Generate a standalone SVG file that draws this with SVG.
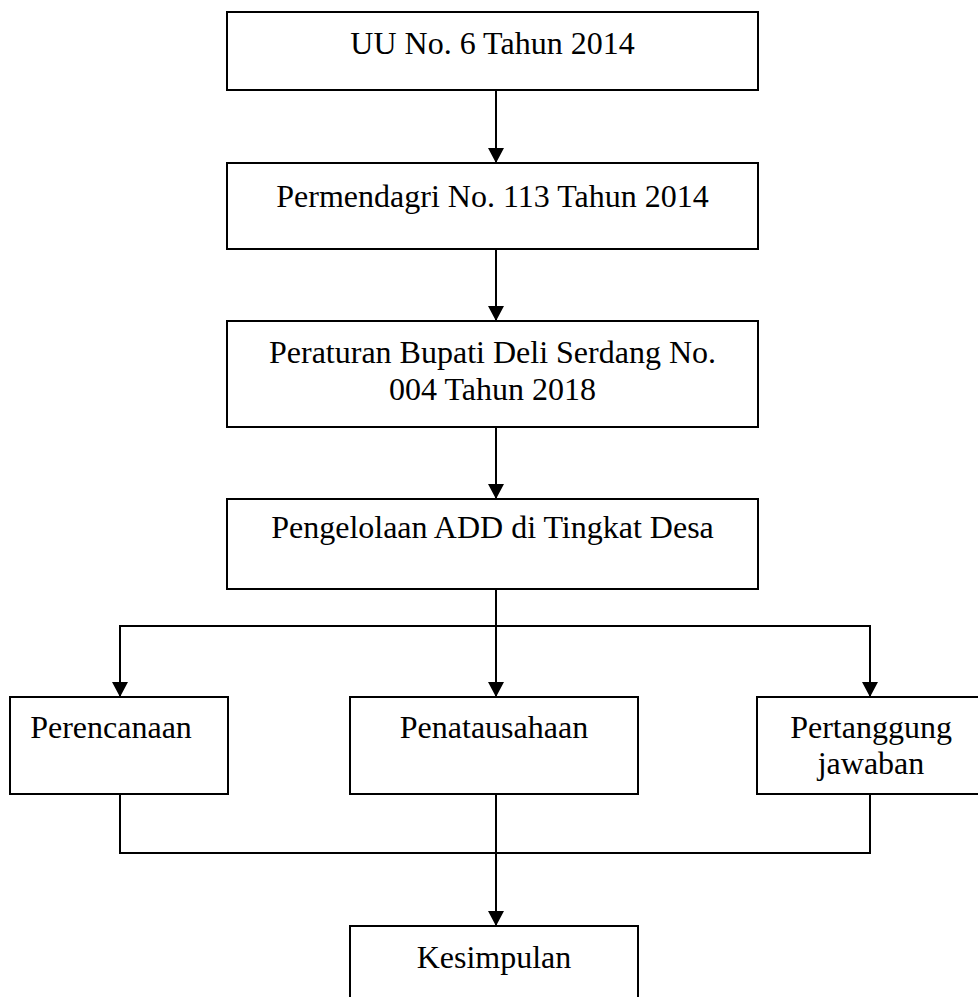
<svg xmlns="http://www.w3.org/2000/svg" width="978" height="997" viewBox="0 0 978 997">
<style>
.box{fill:#fff;stroke:#000;stroke-width:2}
.lbl{font-family:"Liberation Serif","Times New Roman",serif;font-size:32px;fill:#000;text-anchor:middle}
.con{fill:none;stroke:#000;stroke-width:2}
</style>
<defs>
<marker id="arr" markerUnits="userSpaceOnUse" markerWidth="15" markerHeight="16" refX="15" refY="8" orient="auto" viewBox="0 0 15 16">
<path d="M0,0 L15,8 L0,16 z" fill="#000"/>
</marker>
</defs>
<rect width="978" height="997" fill="#fff"/>
<g id="connectors">
<line class="con" x1="496" y1="90" x2="496" y2="163" marker-end="url(#arr)"/>
<line class="con" x1="496" y1="249" x2="496" y2="321" marker-end="url(#arr)"/>
<line class="con" x1="496" y1="427" x2="496" y2="499" marker-end="url(#arr)"/>
<line class="con" x1="496" y1="589" x2="496" y2="697" marker-end="url(#arr)"/>
<line class="con" x1="119" y1="626" x2="871" y2="626"/>
<line class="con" x1="120" y1="626" x2="120" y2="697" marker-end="url(#arr)"/>
<line class="con" x1="870" y1="626" x2="870" y2="697" marker-end="url(#arr)"/>
<polyline class="con" points="120,794 120,853 870,853 870,794"/>
<line class="con" x1="496" y1="794" x2="496" y2="926" marker-end="url(#arr)"/>
</g>
<g id="n1">
<rect class="box" x="227" y="12" width="531" height="78"/>
<text class="lbl" x="492.5" y="54">UU No. 6 Tahun 2014</text>
</g>
<g id="n2">
<rect class="box" x="227" y="163" width="531" height="86"/>
<text class="lbl" x="492.5" y="207">Permendagri No. 113 Tahun 2014</text>
</g>
<g id="n3">
<rect class="box" x="227" y="321" width="531" height="106"/>
<text class="lbl" x="492.5" y="363">Peraturan Bupati Deli Serdang No.</text>
<text class="lbl" x="492.5" y="400">004 Tahun 2018</text>
</g>
<g id="n4">
<rect class="box" x="227" y="499" width="531" height="90"/>
<text class="lbl" x="492.5" y="538">Pengelolaan ADD di Tingkat Desa</text>
</g>
<g id="n5">
<rect class="box" x="10" y="697" width="218" height="97"/>
<text class="lbl" x="111" y="738">Perencanaan</text>
</g>
<g id="n6">
<rect class="box" x="350" y="697" width="288" height="97"/>
<text class="lbl" x="494" y="738">Penatausahaan</text>
</g>
<g id="n7">
<rect class="box" x="757" y="697" width="228" height="97"/>
<text class="lbl" x="871" y="738">Pertanggung</text>
<text class="lbl" x="871" y="774">jawaban</text>
</g>
<g id="n8">
<rect class="box" x="350" y="926" width="288" height="80"/>
<text class="lbl" x="494" y="968">Kesimpulan</text>
</g>
</svg>
